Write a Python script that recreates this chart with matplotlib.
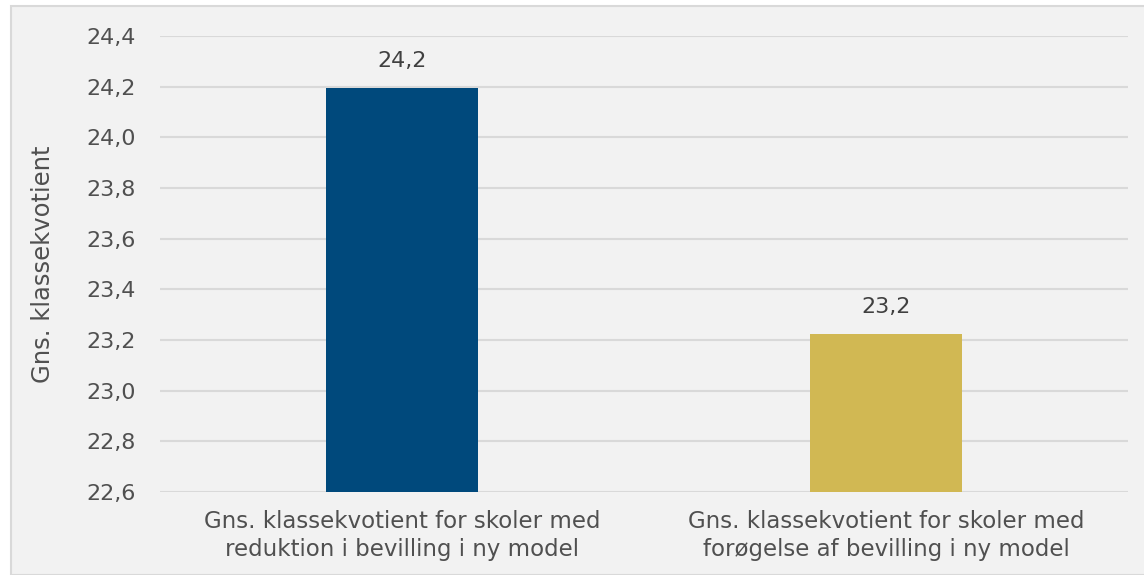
import matplotlib
matplotlib.use("Agg")
import matplotlib.pyplot as plt
from matplotlib.patches import Rectangle

categories = ["Gns. klassekvotient for skoler med\nreduktion i bevilling i ny model",
              "Gns. klassekvotient for skoler med\nforøgelse af bevilling i ny model"]
values = [24.195, 23.224]
value_labels = ["24,2", "23,2"]
colors = ["#00497C", "#D1B853"]
yticks = [22.6, 22.8, 23.0, 23.2, 23.4, 23.6, 23.8, 24.0, 24.2, 24.4]
ylabel = "Gns. klassekvotient"

plt.rcParams['font.family'] = ['DejaVu Sans']
W, H = 1144, 575
fig = plt.figure(figsize=(W/100, H/100), dpi=100, facecolor="white")
fig.patches.append(Rectangle((11/W, 0), 1.2, 1 - 6/H, transform=fig.transFigure,
                             facecolor="#F2F2F2", edgecolor="#D9D9D9", linewidth=1.5, zorder=-1))

ax = fig.add_axes([160/W, 1 - 492/H, 968/W, 456/H])
ax.set_facecolor("none")
x = list(range(len(categories)))
ax.bar(x, values, width=0.314, color=colors, zorder=3, bottom=0)
ax.set_ylim(22.6, 24.4)
ax.set_xlim(-0.5, 1.5)
ax.set_yticks(yticks)
ax.set_yticklabels([f"{t:.1f}".replace(".", ",") for t in yticks], fontsize=16, color="#505050")
ax.set_xticks(x)
ax.set_xticklabels(categories, fontsize=16.5, color="#505050", linespacing=1.3)
ax.tick_params(axis="both", length=0)
ax.tick_params(axis="y", pad=53)
ax.tick_params(axis="x", pad=13)
for lbl in ax.get_yticklabels():
    lbl.set_horizontalalignment("left")
ax.grid(axis="y", color="#D9D9D9", linewidth=1.5, zorder=0)
for s in ax.spines.values():
    s.set_visible(False)
for xi, v, t in zip(x, values, value_labels):
    ax.annotate(t, (xi, v), xytext=(0, 12), textcoords="offset points",
                ha="center", va="bottom", fontsize=16, color="#404040")
ax.set_ylabel(ylabel, fontsize=17.5, color="#505050")
ax.yaxis.set_label_coords(-105/968, 0.5)
fig.savefig("out.png", dpi=100, facecolor="white")
